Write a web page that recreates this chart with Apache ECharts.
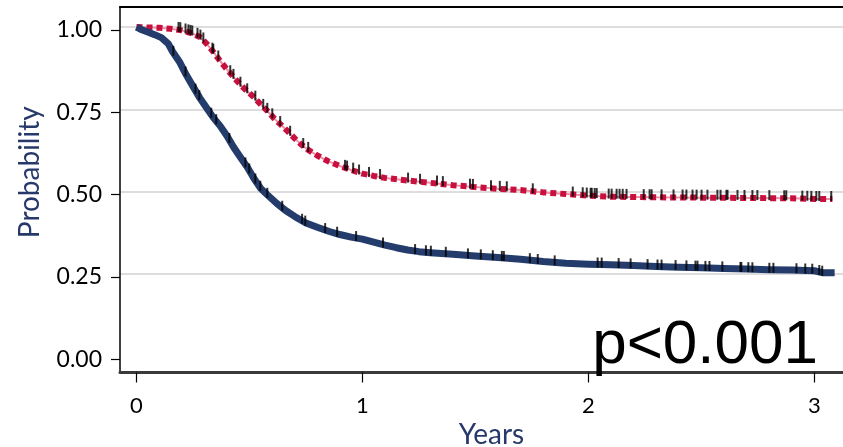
<!DOCTYPE html>
<html>
<head>
<meta charset="utf-8">
<script src="https://cdn.jsdelivr.net/npm/echarts@6/dist/echarts.min.js"></script>
<style>html,body{margin:0;padding:0;background:#fff;}#c{width:843px;height:447px;}</style>
</head>
<body>
<div id="c"></div>
<script>
// ---- data ----
const xTicks = [0, 1, 2, 3];
const yTicks = [0, 0.25, 0.5, 0.75, 1.0];
const gridTicks = [0.25, 0.5, 0.75, 1.0];

const blueTimes = [0,0.02,0.05,0.08,0.11,0.14,0.16,0.19,0.22,0.25,0.28,0.31,0.34,0.37,0.40,0.43,0.46,0.49,0.52,0.55,0.58,0.62,0.66,0.70,0.75,0.80,0.85,0.90,0.95,1.00,1.05,1.10,1.15,1.20,1.25,1.30,1.40,1.50,1.60,1.70,1.80,1.90,2.00,2.10,2.20,2.30,2.40,2.50,2.60,2.70,2.80,2.90,3.00,3.035,3.09];
const blueSurv  = [1.000,0.993,0.985,0.977,0.968,0.950,0.925,0.895,0.855,0.820,0.785,0.755,0.725,0.700,0.670,0.635,0.605,0.575,0.540,0.510,0.490,0.465,0.443,0.425,0.405,0.392,0.380,0.370,0.362,0.356,0.347,0.338,0.330,0.323,0.318,0.315,0.310,0.305,0.300,0.295,0.288,0.283,0.280,0.278,0.276,0.273,0.271,0.269,0.267,0.265,0.263,0.262,0.260,0.254,0.254];

const redTimes = [0,0.10,0.15,0.20,0.25,0.28,0.31,0.34,0.37,0.40,0.43,0.46,0.49,0.52,0.55,0.58,0.61,0.64,0.67,0.70,0.73,0.76,0.80,0.85,0.90,0.95,1.00,1.05,1.10,1.20,1.30,1.40,1.50,1.60,1.70,1.80,1.90,2.00,2.10,2.30,2.50,2.70,2.90,3.00,3.08];
const redSurv  = [1.000,0.998,0.995,0.990,0.980,0.970,0.950,0.925,0.897,0.872,0.848,0.825,0.805,0.787,0.765,0.745,0.722,0.703,0.683,0.662,0.643,0.627,0.610,0.592,0.578,0.566,0.555,0.548,0.542,0.534,0.527,0.520,0.514,0.509,0.505,0.498,0.493,0.488,0.485,0.483,0.482,0.481,0.480,0.478,0.478];

const blueCensor = [0.163,0.217,0.261,0.278,0.331,0.353,0.411,0.482,0.499,0.526,0.548,0.579,0.645,0.733,0.747,0.835,0.888,0.972,1.091,1.233,1.281,1.303,1.369,1.467,1.524,1.577,1.617,1.626,1.741,1.776,1.851,2.041,2.059,2.134,2.187,2.262,2.306,2.324,2.386,2.434,2.474,2.483,2.518,2.536,2.593,2.673,2.677,2.708,2.726,2.801,2.819,2.921,2.96,2.991,3.022,3.035];
const redCensor = [0.186,0.194,0.217,0.23,0.239,0.247,0.27,0.283,0.296,0.336,0.34,0.362,0.415,0.429,0.46,0.49,0.526,0.561,0.579,0.601,0.636,0.68,0.738,0.76,0.923,0.932,0.959,0.985,1.029,1.078,1.202,1.255,1.33,1.356,1.476,1.489,1.569,1.608,1.639,1.754,1.931,1.975,1.993,2.01,2.015,2.028,2.037,2.09,2.103,2.125,2.138,2.152,2.169,2.245,2.271,2.28,2.324,2.377,2.417,2.434,2.461,2.479,2.501,2.527,2.571,2.585,2.611,2.616,2.66,2.691,2.726,2.748,2.801,2.867,2.876,2.947,2.969,2.987,3.009,3.022,3.075];

const pText = 'p<0.001';

// ---- helpers ----
function valueAt(times, surv, t) {
  for (let i = 1; i < times.length; i++) {
    if (t <= times[i]) {
      const f = (t - times[i - 1]) / (times[i] - times[i - 1]);
      return surv[i - 1] + f * (surv[i] - surv[i - 1]);
    }
  }
  return surv[surv.length - 1];
}
const bluePts = blueTimes.map((t, i) => [t, blueSurv[i]]);
const redPts = redTimes.map((t, i) => [t, redSurv[i]]);
const blueCPts = blueCensor.map(t => [t, valueAt(blueTimes, blueSurv, t)]);
const redCPts = redCensor.map(t => [t, valueAt(redTimes, redSurv, t)]);

const FONT = 'Lato';
const chart = echarts.init(document.getElementById('c'), null, {renderer: 'canvas'});
chart.setOption({
  animation: false,
  backgroundColor: '#fff',
  grid: {left: 120, right: 0, top: 7, bottom: 74.5, containLabel: false, outerBoundsMode: 'none'},
  xAxis: [{
    type: 'value', min: -0.073, max: 3.127, position: 'bottom',
    axisLine: {show: true, onZero: false, lineStyle: {color: '#3a3a3a', width: 3}},
    axisTick: {show: true, length: 10, lineStyle: {color: '#000', width: 1.2}, customValues: xTicks},
    axisLabel: {customValues: xTicks, fontSize: 22, color: '#000', fontFamily: FONT, margin: 22, formatter: v => String(v)},
    splitLine: {show: false},
    name: 'Years', nameLocation: 'middle', nameGap: 48,
    nameTextStyle: {fontSize: 28, color: '#26396a', fontFamily: FONT, padding: [0, 0, 0, 20]}
  }, {
    type: 'value', min: -0.073, max: 3.127, position: 'top',
    axisLine: {show: true, onZero: false, lineStyle: {color: '#000', width: 2}},
    axisTick: {show: false}, axisLabel: {show: false}, splitLine: {show: false}
  }],
  yAxis: [{
    type: 'value', min: -0.049, max: 1.061, position: 'left',
    axisLine: {show: true, onZero: false, lineStyle: {color: '#000', width: 1.5}},
    axisTick: {show: false, customValues: gridTicks},
    axisLabel: {show: false, customValues: gridTicks},
    splitLine: {show: true, lineStyle: {color: '#dddddd', width: 2}},
    name: 'Probability', nameLocation: 'middle', nameGap: 76,
    nameTextStyle: {fontSize: 28, color: '#26396a', fontFamily: FONT, padding: [0, 0, 0, 35]}
  }, {
    type: 'value', min: -0.04, max: 1.07, position: 'left',
    axisLine: {show: false, onZero: false},
    axisTick: {show: true, length: 9, lineStyle: {color: '#000', width: 1.2}, customValues: yTicks},
    axisLabel: {customValues: yTicks, fontSize: 23, color: '#000', fontFamily: FONT, margin: 18,
      padding: [12, 0, 0, 0], formatter: v => v.toFixed(2)},
    splitLine: {show: false}
  }],
  series: [
    {type: 'line', name: 'group2-under', data: redPts, showSymbol: false, z: 2,
      lineStyle: {color: '#ee8fa6', width: 2}},
    {type: 'line', name: 'group2', data: redPts, showSymbol: false, z: 3,
      lineStyle: {color: '#c8103e', width: 6, type: [6, 4], cap: 'butt'}},
    {type: 'line', name: 'group1', data: bluePts, showSymbol: false, z: 4,
      lineStyle: {color: '#243c6c', width: 7, join: 'round'}},
    {type: 'scatter', data: redCPts, symbol: 'rect', symbolSize: [2, 10], symbolOffset: [0, -3], z: 6,
      itemStyle: {color: '#000'}},
    {type: 'scatter', data: blueCPts, symbol: 'rect', symbolSize: [2, 10], symbolOffset: [0, -2], z: 6,
      itemStyle: {color: '#000'}}
  ],
  graphic: [{
    type: 'text', right: 25, top: 315, z: 10,
    style: {text: pText, font: '62px "Liberation Sans", Arial, sans-serif', fill: '#000'}
  }]
});
</script>
</body>
</html>
